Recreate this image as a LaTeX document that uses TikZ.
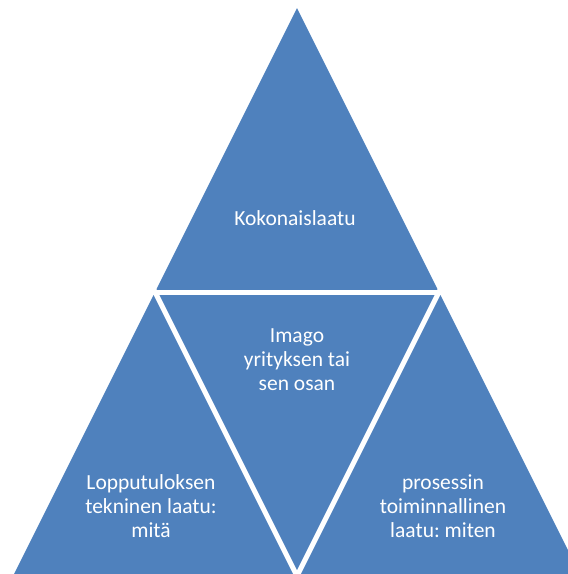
\documentclass[tikz,border=0pt]{standalone}
\usepackage{fontspec}
\setmainfont{Carlito}
\usetikzlibrary{calc}
\definecolor{triblue}{HTML}{4F81BD}
\begin{document}
\frenchspacing
\begin{tikzpicture}[x=1pt,y=-1pt,
  lbl/.style={text=white, align=center, font=\fontsize{21.5}{24}\selectfont},
  sepline/.style={draw=white, line width=5pt, shorten <=-8pt, shorten >=-8pt}]
\useasboundingbox (0,0) rectangle (568,574);
\clip (0,0) rectangle (568,574);
\coordinate (A) at (297,8);
\coordinate (B) at (13,576);
\coordinate (C) at (581,576);
\coordinate (AB) at ($(A)!0.5!(B)$);
\coordinate (AC) at ($(A)!0.5!(C)$);
\coordinate (BC) at ($(B)!0.5!(C)$);
\fill[triblue] (A) -- (B) -- (C) -- cycle;
\draw[sepline] (AB) -- (AC);
\draw[sepline] (AB) -- (BC);
\draw[sepline] (AC) -- (BC);
\node[lbl] (top) at (295,218) {Kokonaislaatu};
\node[lbl] (mid) at (297,360) {Imago\\yrityksen tai\\sen osan};
\node[lbl] (left) at (151,506) {Lopputuloksen\\tekninen laatu:\\mitä};
\node[lbl] (right) at (443,506) {prosessin\\toiminnallinen\\laatu: miten};
\end{tikzpicture}
\end{document}
